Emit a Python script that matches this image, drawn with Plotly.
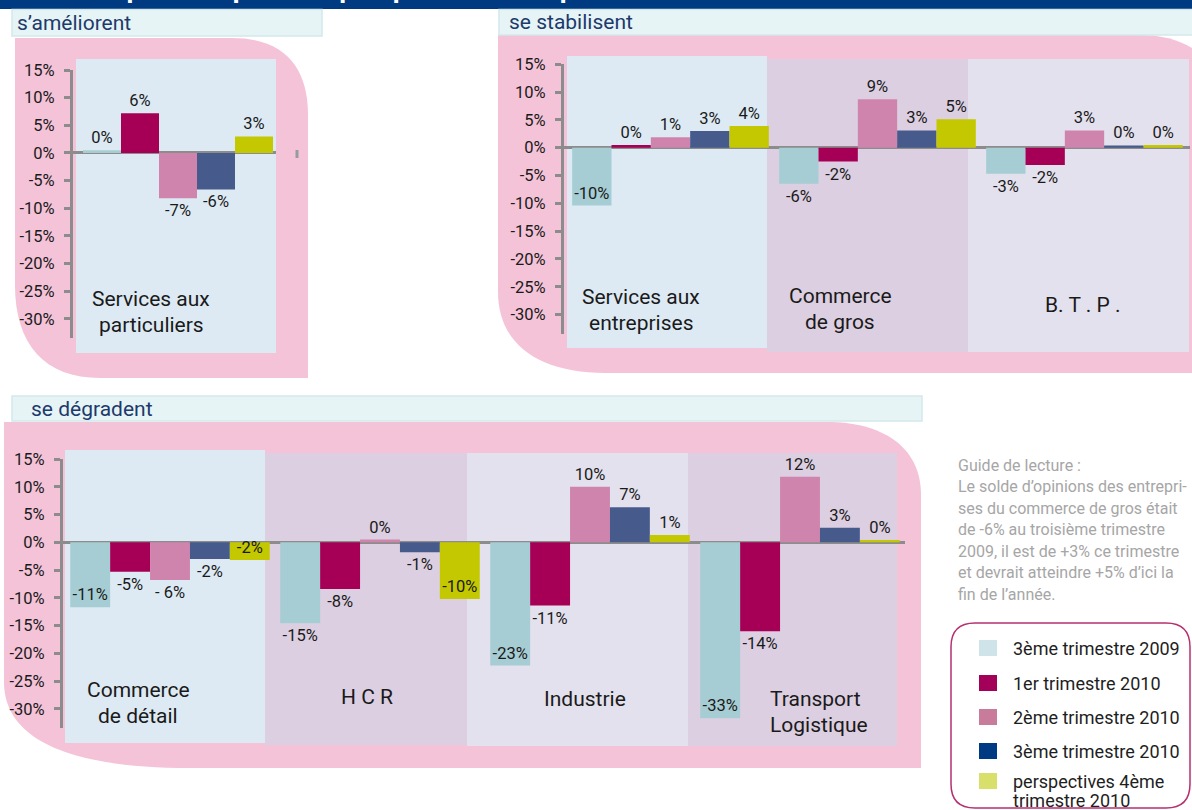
import plotly.graph_objects as go

W, H = 1192, 810

# ---------------- data ----------------
SERIES = ["3ème trimestre 2009", "1er trimestre 2010", "2ème trimestre 2010",
          "3ème trimestre 2010", "perspectives 4ème<br>trimestre 2010"]

AMEL_SECTORS = ["Services aux<br>particuliers"]
AMEL_VALUES = [[0.5], [7.2], [-8.2], [-6.6], [3.0]]
AMEL_LABELS = [["0%"], ["6%"], ["-7%"], ["-6%"], ["3%"]]

STAB_SECTORS = ["Services aux<br>entreprises", "Commerce<br>de gros", "B. T . P ."]
STAB_VALUES = [[-10.4, -6.5, -4.7], [0.5, -2.5, -3.1], [1.9, 8.7, 3.1],
               [3.0, 3.1, 0.4], [3.9, 5.1, 0.5]]
STAB_LABELS = [["-10%", "-6%", "-3%"], ["0%", "-2%", "-2%"], ["1%", "9%", "3%"],
               ["3%", "3%", "0%"], ["4%", "5%", "0%"]]

DEGR_SECTORS = ["Commerce<br>de détail", "H C R", "Industrie", "Transport<br>Logistique"]
DEGR_VALUES = [[-11.7, -14.6, -22.2, -31.7], [-5.3, -8.4, -11.4, -16.0],
               [-6.8, 0.5, 10.0, 11.8], [-3.0, -1.8, 6.3, 2.6], [-3.2, -10.2, 1.3, 0.4]]
DEGR_LABELS = [["-11%", "-15%", "-23%", "-33%"], ["-5%", "-8%", "-11%", "-14%"],
               ["- 6%", "0%", "10%", "12%"], ["-2%", "-1%", "7%", "3%"],
               ["-2%", "-10%", "1%", "0%"]]

Y_TICKS = [15, 10, 5, 0, -5, -10, -15, -20, -25, -30]

GUIDE_LINES = ["Guide de lecture :",
               "Le solde d’opinions des entrepri-",
               "ses du commerce de gros était",
               "de -6% au troisième trimestre",
               "2009, il est de +3% ce trimestre",
               "et devrait atteindre +5% d’ici la",
               "fin de l’année."]

# ---------------- styles ----------------
BAR_COLORS = ["#a6cdd3", "#a50055", "#cf84ae", "#465b8c", "#c4c800"]
LEGEND_COLORS = ["#cfe4e9", "#a3005a", "#c97b9c", "#003a82", "#d9df6b"]
PINK = "#f4c3d8"
LB, MV, LV = "#ddeaf4", "#dccfe1", "#e3e1ed"
GRAY = "#8c8c8c"
NAVY_TXT = "#1c3a6c"
FONT = "Roboto"


def px(x):
    return x / W


def py(y):
    return 1 - y / H


def P(x, y):
    return f"{px(x):.5f},{py(y):.5f}"


PANELS = [
    dict(key="amel", ax="", sectors=AMEL_SECTORS, values=AMEL_VALUES, labels=AMEL_LABELS,
         xdom=(73, 276), ydom=(70, 338.3), cat0=78, catw=200,
         bgs=[(76, 276, 59, 353, LB)],
         catlab=[(151, 299, "center")]),
    dict(key="stab", ax="2", sectors=STAB_SECTORS, values=STAB_VALUES, labels=STAB_LABELS,
         xdom=(564, 1190), ydom=(64.3, 334), cat0=567, catw=207,
         bgs=[(567, 767, 56, 348, LB), (767, 968, 59, 352, MV), (968, 1189, 59, 352, LV)],
         catlab=[(641, 297, "center"), (840, 296, "center"), (1083, 305, "center")]),
    dict(key="degr", ax="3", sectors=DEGR_SECTORS, values=DEGR_VALUES, labels=DEGR_LABELS,
         xdom=(63, 905), ydom=(459, 728.3), cat0=65, catw=210,
         bgs=[(65, 265, 450, 743, LB), (265, 467, 453, 745, MV),
              (467, 688, 453, 746, LV), (688, 897, 453, 746, MV)],
         catlab=[(138, 690, "center"), (367, 697, "center"), (585, 699, "center"),
                 (768, 699, "left")]),
]

INSIDE = {("stab", 0, 0), ("degr", 0, 0), ("degr", 0, 2), ("degr", 0, 3),
          ("degr", 4, 0), ("degr", 4, 1)}

fig = go.Figure()
shapes = []
annotations = []

# pink rounded panels
shapes.append(dict(type="path", xref="paper", yref="paper", layer="below",
                   fillcolor=PINK, line=dict(width=0),
                   path=f"M{P(15,38)} L{P(232,38)} C{P(285,38)} {P(308,68)} {P(308,115)} "
                        f"L{P(308,378)} L{P(100,378)} C{P(45,378)} {P(15,345)} {P(15,285)} Z"))
shapes.append(dict(type="path", xref="paper", yref="paper", layer="below",
                   fillcolor=PINK, line=dict(width=0),
                   path=f"M{P(498,35)} L{P(1140,35)} C{P(1175,35)} {P(1200,48)} {P(1215,70)} "
                        f"L{P(1215,373)} L{P(605,373)} C{P(540,373)} {P(498,345)} {P(498,292)} Z"))
shapes.append(dict(type="path", xref="paper", yref="paper", layer="below",
                   fillcolor=PINK, line=dict(width=0),
                   path=f"M{P(4,422)} L{P(827,422)} C{P(880,422)} {P(921,445)} {P(921,495)} "
                        f"L{P(921,768)} L{P(190,768)} C{P(70,768)} {P(4,740)} {P(4,682)} Z"))

# header bar
shapes.append(dict(type="rect", xref="paper", yref="paper", layer="below",
                   x0=0, x1=1, y0=py(9), y1=1.01, fillcolor="#003a80", line=dict(width=0)))
annotations.append(dict(text="<b>/Secteurs pour lesquels les perspectives d’emploi ?</b>",
                        xref="paper", yref="paper", x=px(-1), y=py(-12), xanchor="left",
                        yanchor="middle", showarrow=False,
                        font=dict(family=FONT, size=27, color="white")))

# title boxes
for (x0, x1, y0, y1, txt, tx) in [(12, 322, 9.5, 36, "s’améliorent", 15),
                                 (499, 1194, 9.5, 35, "se stabilisent", 507),
                                 (12, 922, 396, 421, "se dégradent", 29)]:
    shapes.append(dict(type="rect", xref="paper", yref="paper", layer="below",
                       x0=px(x0), x1=px(x1), y0=py(y1), y1=py(y0),
                       fillcolor="#e7f4f5", line=dict(color="#d3e8eb", width=1.5)))
    annotations.append(dict(text=txt, xref="paper", yref="paper", x=px(tx),
                            y=py((y0 + y1) / 2), xanchor="left", yanchor="middle",
                            showarrow=False, font=dict(family=FONT, size=21, color=NAVY_TXT)))

layout_axes = {}
for pnl in PANELS:
    ax = pnl["ax"]
    xname = "x" + ax
    yname = "y" + ax
    n = len(pnl["sectors"])
    cats = [s.replace("<br>", " ") for s in pnl["sectors"]]
    # backgrounds
    for (x0, x1, y0, y1, col) in pnl["bgs"]:
        shapes.append(dict(type="rect", xref="paper", yref="paper", layer="below",
                           x0=px(x0), x1=px(x1), y0=py(y1), y1=py(y0),
                           fillcolor=col, line=dict(width=0)))
    # bars
    for si in range(5):
        tpos = ["inside" if (pnl["key"], si, ci) in INSIDE else "outside" for ci in range(n)]
        fig.add_trace(go.Bar(
            x=cats, y=pnl["values"][si], text=pnl["labels"][si],
            textposition=tpos, insidetextanchor="end", constraintext="none", textangle=0,
            textfont=dict(family=FONT, size=16.5, color="#1a1a1a"),
            outsidetextfont=dict(family=FONT, size=16.5, color="#1a1a1a"),
            insidetextfont=dict(family=FONT, size=16.5, color="#1a1a1a"),
            marker=dict(color=BAR_COLORS[si], line=dict(width=0)),
            name=SERIES[si], showlegend=False, cliponaxis=False,
            xaxis=xname, yaxis=yname, hoverinfo="skip"))
    x0d, x1d = pnl["xdom"]
    y0d, y1d = pnl["ydom"]
    rng = [-0.5 - (pnl["cat0"] - x0d) / pnl["catw"], -0.5 + (x1d - pnl["cat0"]) / pnl["catw"]]
    layout_axes["xaxis" + ax] = dict(domain=[px(x0d), px(x1d)], range=rng, visible=False,
                                     anchor=yname, fixedrange=True, automargin=False)
    layout_axes["yaxis" + ax] = dict(
        domain=[py(y1d), py(y0d)], range=[-33.5, 15], anchor=xname, automargin=False,
        tickvals=Y_TICKS, ticktext=[f"{t}%" for t in Y_TICKS],
        ticks="outside", ticklen=6, tickwidth=2.5, tickcolor=GRAY,
        showline=True, linecolor=GRAY, linewidth=3, showgrid=False,
        zeroline=True, zerolinecolor=GRAY, zerolinewidth=3,
        ticklabelstandoff=6,
        tickfont=dict(family=FONT, size=16.5, color="#1a1a1a"), fixedrange=True)
    # category labels
    for ci, sec in enumerate(pnl["sectors"]):
        lx, ly, anc = pnl["catlab"][ci]
        for li, line in enumerate(sec.split("<br>")):
            annotations.append(dict(text=line, xref="paper", yref="paper", x=px(lx),
                                    y=py(ly + li * 26), xanchor=anc, yanchor="middle",
                                    showarrow=False,
                                    font=dict(family=FONT, size=21, color="#1a1a1a")))

# small stray tick mark in the first panel
shapes.append(dict(type="rect", xref="paper", yref="paper", layer="below",
                   x0=px(295.5), x1=px(298.5), y0=py(158), y1=py(150),
                   fillcolor="#9a9a9a", line=dict(width=0)))

# guide text
for i, line in enumerate(GUIDE_LINES):
    annotations.append(dict(text=line, xref="paper", yref="paper", x=px(956),
                            y=py(465 + i * 21.5), xanchor="left", yanchor="middle",
                            showarrow=False, font=dict(family=FONT, size=16, color="#a6a6a6")))

# legend box
x0, y0, x1, y1, r = 951, 623, 1190, 808, 24
shapes.append(dict(type="path", xref="paper", yref="paper", layer="above",
                   line=dict(color="#b5306f", width=1.5), fillcolor="rgba(0,0,0,0)",
                   path=f"M{P(x0+r,y0)} L{P(x1-r,y0)} Q{P(x1,y0)} {P(x1,y0+r)} L{P(x1,y1-r)} "
                        f"Q{P(x1,y1)} {P(x1-r,y1)} L{P(x0+r,y1)} Q{P(x0,y1)} {P(x0,y1-r)} "
                        f"L{P(x0,y0+r)} Q{P(x0,y0)} {P(x0+r,y0)} Z"))
leg_y = [648, 683, 717, 751, 781]
for i, name in enumerate(SERIES):
    yc = leg_y[i]
    shapes.append(dict(type="rect", xref="paper", yref="paper", layer="above",
                       x0=px(979), x1=px(997), y0=py(yc + 8), y1=py(yc - 8),
                       fillcolor=LEGEND_COLORS[i], line=dict(width=0)))
    for li, part in enumerate(name.split("<br>")):
        annotations.append(dict(text=part, xref="paper", yref="paper", x=px(1011),
                                y=py(yc + li * 19), xanchor="left", yanchor="middle",
                                showarrow=False, font=dict(family=FONT, size=18, color="#1e1e1e")))

fig.update_layout(
    width=W, height=H, margin=dict(l=0, r=0, t=0, b=0, pad=0, autoexpand=False),
    paper_bgcolor="white", plot_bgcolor="rgba(0,0,0,0)",
    barmode="group", bargap=0.05, bargroupgap=0,
    font=dict(family=FONT, color="#1a1a1a"),
    shapes=shapes, annotations=annotations, showlegend=False,
    **layout_axes)

fig.write_html("out.html", config={"displayModeBar": False},
               post_script="document.body.style.margin='0';"
                           "document.body.style.overflow='hidden';")
